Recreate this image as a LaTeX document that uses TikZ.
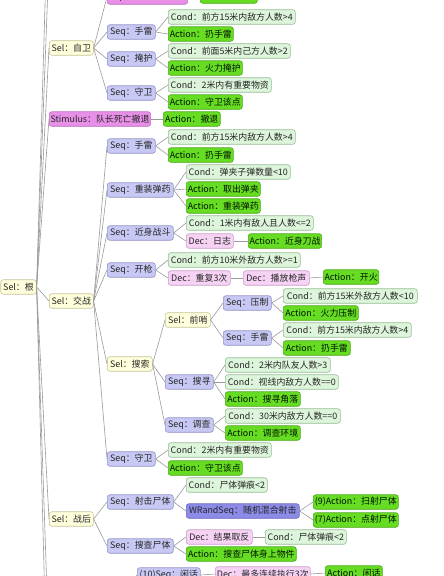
\documentclass[tikz,border=0pt]{standalone}
\usepackage{fontspec}
\setmainfont{Noto Sans CJK SC}
\definecolor{selF}{HTML}{FFFFDC}\definecolor{selD}{HTML}{C4C49A}
\definecolor{seqF}{HTML}{C8C8F4}\definecolor{seqD}{HTML}{9494C8}
\definecolor{conF}{HTML}{DDF5DA}\definecolor{conD}{HTML}{98BE96}
\definecolor{actF}{HTML}{66DD22}\definecolor{actD}{HTML}{48A818}
\definecolor{stiF}{HTML}{E890E8}\definecolor{stiD}{HTML}{BC6CBC}
\definecolor{decF}{HTML}{F6D2F4}\definecolor{decD}{HTML}{C8A0C8}
\definecolor{wrnF}{HTML}{8C8CE8}\definecolor{wrnD}{HTML}{6A6AC0}
\definecolor{lnC}{HTML}{9A9A9A}
\tikzset{
  bx/.style={rounded corners=2.5pt, line width=0.6pt, minimum height=14.5, inner xsep=1.2pt, inner ysep=1pt,
    font=\fontsize{8.9}{10}\selectfont, text=black!85, anchor=west},
  selbox/.style={bx, fill=selF, draw=selD},
  seqbox/.style={bx, fill=seqF, draw=seqD},
  conbox/.style={bx, fill=conF, draw=conD},
  actbox/.style={bx, fill=actF, draw=actD, text=black!80!green!40!black},
  stibox/.style={bx, fill=stiF, draw=stiD},
  decbox/.style={bx, fill=decF, draw=decD},
  wrnbox/.style={bx, fill=wrnF, draw=wrnD},
  ln/.style={draw=lnC, line width=0.6pt}
}
\newcommand\nd[6]{\node[#2, minimum width={#4-#3}] (#1) at (#3,#5) {#6};}
\begin{document}
\begin{tikzpicture}[x=1pt,y=-1pt]
\useasboundingbox (0,0) rectangle (444,576);
\fill[white] (0,0) rectangle (444,576);
\clip (0,0) rectangle (444,576);
% root and level 1
\nd{r}{selbox}{0.4}{36}{287}{Sel：根}
\nd{a}{selbox}{49}{93}{48}{Sel：自卫}
\nd{b}{stibox}{49}{150}{119}{Stimulus：队长死亡撤退}
\nd{c}{selbox}{49}{93}{301}{Sel：交战}
\nd{d}{selbox}{49}{93}{519}{Sel：战后}
\coordinate (t1) at (49,-128);
\coordinate (t2) at (49,-40);
\coordinate (u1) at (49,650);
\coordinate (u2) at (49,757);
% Sel 自卫
\nd{imp}{stibox}{107}{187}{-3}{Impulse：濒死卧倒}
\nd{impa}{actbox}{200}{257}{-4}{Action：卧倒}
\nd{a1}{seqbox}{107}{155}{32}{Seq：手雷}
\nd{a2}{seqbox}{107}{155}{59}{Seq：掩护}
\nd{a3}{seqbox}{107}{155}{93}{Seq：守卫}
\nd{a1c}{conbox}{168}{295}{17}{Cond：前方15米内敌方人数>4}
\nd{a1a}{actbox}{168}{233}{34}{Action：扔手雷}
\nd{a2c}{conbox}{168}{290}{51}{Cond：前面5米内己方人数>2}
\nd{a2a}{actbox}{168}{242}{68}{Action：火力掩护}
\nd{a3c}{conbox}{168}{271}{85}{Cond：2米内有重要物资}
\nd{a3a}{actbox}{168}{242}{102}{Action：守卫该点}
\nd{ba}{actbox}{163}{220}{119}{Action：撤退}
% Sel 交战
\nd{c1}{seqbox}{107}{155}{146}{Seq：手雷}
\nd{c2}{seqbox}{107}{173}{190}{Seq：重装弹药}
\nd{c3}{seqbox}{107}{173}{233}{Seq：近身战斗}
\nd{c4}{seqbox}{107}{155}{270}{Seq：开枪}
\nd{c5}{selbox}{107}{152}{364}{Sel：搜索}
\nd{c6}{seqbox}{107}{155}{459}{Seq：守卫}
\nd{c1c}{conbox}{168}{295}{137}{Cond：前方15米内敌方人数>4}
\nd{c1a}{actbox}{168}{233}{155}{Action：扔手雷}
\nd{c2c}{conbox}{186}{290}{172}{Cond：弹夹子弹数量<10}
\nd{c2a}{actbox}{186}{260}{189}{Action：取出弹夹}
\nd{c2b}{actbox}{186}{260}{206}{Action：重装弹药}
\nd{c3c}{conbox}{186}{313}{223}{Cond：1米内有敌人且人数<=2}
\nd{c3d}{decbox}{186}{233}{241}{Dec：日志}
\nd{c3a}{actbox}{248}{321}{241}{Action：近身刀战}
\nd{c4c}{conbox}{168}{300}{260}{Cond：前方10米外敌方人数>=1}
\nd{c4d}{decbox}{168}{230}{278}{Dec：重复3次}
\nd{c4e}{decbox}{243}{309}{278}{Dec：播放枪声}
\nd{c4a}{actbox}{323}{378}{277}{Action：开火}
\nd{c5s}{selbox}{165}{210}{320}{Sel：前哨}
\nd{c5a}{seqbox}{165}{213}{382}{Seq：搜寻}
\nd{c5b}{seqbox}{165}{213}{425}{Seq：调查}
\nd{p1}{seqbox}{223}{271}{303}{Seq：压制}
\nd{p2}{seqbox}{223}{271}{338}{Seq：手雷}
\nd{p1c}{conbox}{283}{417}{296}{Cond：前方15米外敌方人数<10}
\nd{p1a}{actbox}{283}{358}{313}{Action：火力压制}
\nd{p2c}{conbox}{283}{411}{330}{Cond：前方15米内敌方人数>4}
\nd{p2a}{actbox}{283}{350}{348}{Action：扔手雷}
\nd{s1}{conbox}{225}{330}{365}{Cond：2米内队友人数>3}
\nd{s2}{conbox}{225}{338}{382}{Cond：视线内敌方人数==0}
\nd{s3}{actbox}{225}{300}{399}{Action：搜寻角落}
\nd{v1}{conbox}{225}{340}{416}{Cond：30米内敌方人数==0}
\nd{v2}{actbox}{225}{300}{433}{Action：调查环境}
\nd{c6c}{conbox}{168}{271}{450}{Cond：2米内有重要物资}
\nd{c6a}{actbox}{168}{242}{468}{Action：守卫该点}
% Sel 战后
\nd{d1}{seqbox}{107}{173}{502}{Seq：射击尸体}
\nd{d2}{seqbox}{107}{173}{546}{Seq：搜查尸体}
\nd{d1c}{conbox}{186}{267}{485}{Cond：尸体弹痕<2}
\nd{d1w}{wrnbox}{186}{299}{511}{WRandSeq：随机混合射击}
\nd{w1}{actbox}{313}{398}{502}{(9)Action：扫射尸体}
\nd{w2}{actbox}{313}{398}{520}{(7)Action：点射尸体}
\nd{d2d}{decbox}{186}{252}{537}{Dec：结果取反}
\nd{d2c}{conbox}{265}{346}{537}{Cond：尸体弹痕<2}
\nd{d2a}{actbox}{186}{296}{554}{Action：搜查尸体身上物件}
% bottom
\nd{z}{seqbox}{137}{200}{575}{(10)Seq：闲话}
\nd{zd}{decbox}{215}{310}{574}{Dec：最多连续执行3次}
\nd{za}{actbox}{325}{382}{573}{Action：闲话}
\coordinate (zp) at (118,600);
% connectors
\foreach \p/\q in {r/a,r/b,r/c,r/d,
  a/imp,imp/impa,a/a1,a/a2,a/a3,a1/a1c,a1/a1a,a2/a2c,a2/a2a,a3/a3c,a3/a3a,b/ba,
  c/c1,c/c2,c/c3,c/c4,c/c5,c/c6,c1/c1c,c1/c1a,c2/c2c,c2/c2a,c2/c2b,c3/c3c,c3/c3d,c3d/c3a,
  c4/c4c,c4/c4d,c4d/c4e,c4e/c4a,c5/c5s,c5/c5a,c5/c5b,c5s/p1,c5s/p2,p1/p1c,p1/p1a,p2/p2c,p2/p2a,
  c5a/s1,c5a/s2,c5a/s3,c5b/v1,c5b/v2,c6/c6c,c6/c6a,
  d/d1,d/d2,d1/d1c,d1/d1w,d1w/w1,d1w/w2,d2/d2d,d2d/d2c,d2/d2a,z/zd,zd/za}
  {\draw[ln] (\p.east) -- (\q.west);}
\draw[ln] (r.east) -- (t1);
\draw[ln] (r.east) -- (t2);
\draw[ln] (r.east) -- (u1);
\draw[ln] (r.east) -- (u2);
\draw[ln] (z.west) -- (zp);
\end{tikzpicture}
\end{document}
